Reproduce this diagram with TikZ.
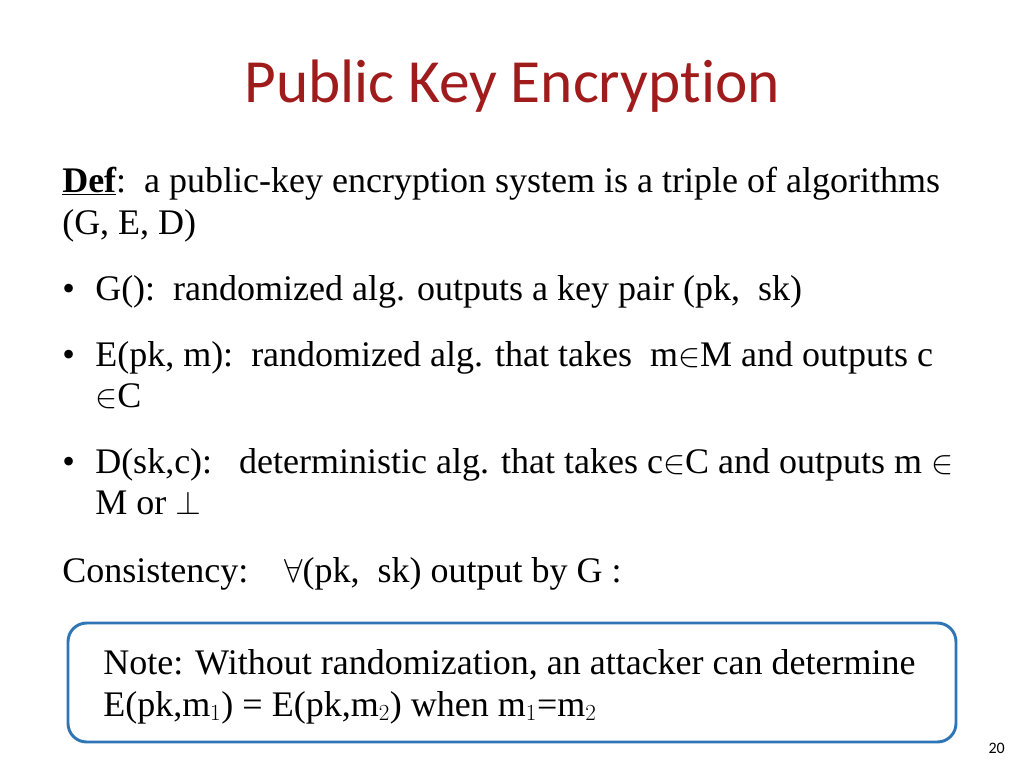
\documentclass[tikz,border=0pt]{standalone}
\usepackage{fontspec}
\setmainfont{Liberation Serif}
\newfontfamily\titlefont[Ligatures=NoCommon]{Carlito}
\definecolor{ttl}{HTML}{A01B1B}
\definecolor{bx}{HTML}{2E75B6}
\newcommand{\myul}[1]{\underline{\smash{#1}}}
\begin{document}
\begin{tikzpicture}[x=0.75pt,y=-0.75pt,
  body/.style={anchor=base west,inner sep=0pt,font=\fontsize{27}{32}\selectfont}]
\useasboundingbox (0,0) rectangle (1024,768);
\node[font=\titlefont\fontsize{46}{54}\selectfont,text=ttl,anchor=base] (title) at (512,102) {Public Key Encryption};
\node[body] (def) at (62,192) {\textbf{\myul{Def}}:\ \ a public-key encryption system is a triple of algorithms};
\node[body] (ged) at (62,234) {(G, E, D)};
\node[body] (b1) at (62,300) {•};
\node[body] (g) at (95,300) {G():\ \ randomized alg. outputs a key pair (pk,\ \ sk)};
\node[body] (b2) at (62,366) {•};
\node[body] (e) at (95,366) {E(pk, m):\ \ randomized alg. that takes\ \ m$\in$M and outputs c};
\node[body] (e2) at (95,407) {$\in$C};
\node[body] (b3) at (62,473) {•};
\node[body] (d) at (95,473) {D(sk,c):\ \ \ deterministic alg. that takes c$\in$C and outputs m $\in$};
\node[body] (d2) at (95,514) {M or $\perp$};
\node[body] (cons) at (62,582) {Consistency:\ \ \ \ $\forall$(pk,\ \ sk) output by G :};
\draw[bx,line width=2.2pt,rounded corners=14pt] (68,623) rectangle (956,742);
\node[body] (n1) at (103,674) {Note: Without randomization, an attacker can determine};
\node[body] (n2) at (103,716) {E(pk,m$_1$) = E(pk,m$_2$) when m$_1$=m$_2$};
\node[font=\titlefont\fontsize{12}{14}\selectfont,anchor=base east,inner sep=0pt] (pg) at (1005,753) {20};
\end{tikzpicture}
\end{document}
